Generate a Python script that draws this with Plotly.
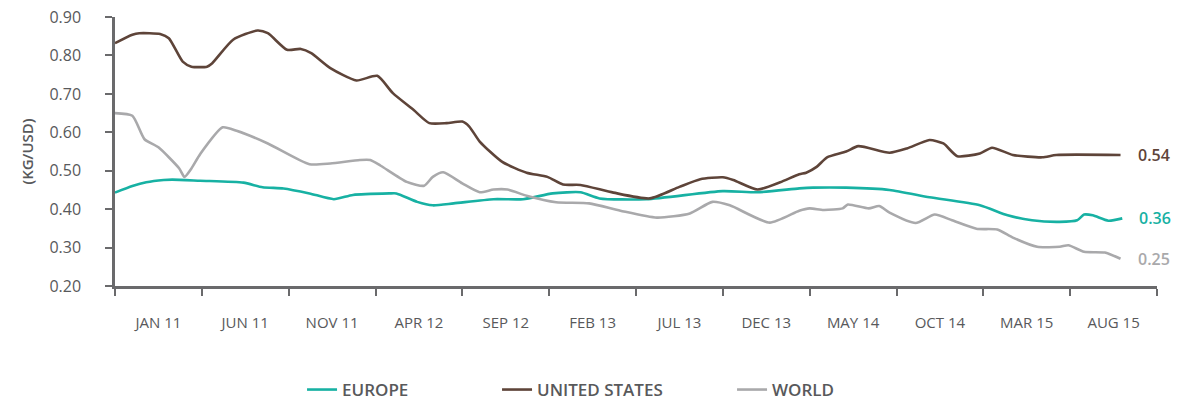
import plotly.graph_objects as go

# month index (0 = first month on the axis, 5 months between ticks)
us_month = [0, 1.0, 1.4, 2.6, 3.1, 3.9, 4.4, 5.3, 5.6, 6.8, 8.2, 8.8, 9.9, 10.7, 11.3, 12.4, 13.9,
            15.1, 16.0, 17.2, 18.1, 19.1, 20.0, 20.4, 21.0, 22.3, 23.7, 24.9, 25.8, 26.8, 28.7,
            30.8, 32.5, 33.7, 35.0, 35.6, 37.0, 38.3, 39.4, 39.8, 40.4, 41.0, 42.1, 42.8, 44.6,
            45.6, 46.9, 47.7, 48.5, 49.8, 50.5, 51.7, 53.4, 54.2, 57.9]
us_vals = [0.832, 0.854, 0.858, 0.856, 0.845, 0.784, 0.771, 0.771, 0.780, 0.841, 0.865, 0.858,
           0.815, 0.817, 0.806, 0.767, 0.735, 0.747, 0.702, 0.658, 0.624, 0.624, 0.628, 0.615,
           0.576, 0.523, 0.495, 0.484, 0.464, 0.463, 0.443, 0.428, 0.458, 0.478, 0.483, 0.476,
           0.451, 0.470, 0.491, 0.495, 0.510, 0.535, 0.550, 0.564, 0.547, 0.558, 0.580, 0.571,
           0.538, 0.545, 0.560, 0.541, 0.535, 0.541, 0.541]

eu_month = [0, 1.0, 1.8, 2.8, 3.3, 4.9, 7.4, 8.5, 9.7, 11.2, 12.6, 13.7, 15.8, 16.2, 17.4, 18.3,
            19.5, 21.8, 23.5, 25.2, 26.8, 27.9, 30.6, 35.0, 37.0, 39.4, 40.2, 42.1, 44.6, 46.9,
            49.8, 51.4, 52.8, 54.4, 55.4, 55.8, 56.3, 57.2, 58.0]
eu_vals = [0.443, 0.460, 0.470, 0.476, 0.477, 0.474, 0.469, 0.457, 0.454, 0.441, 0.426, 0.437,
           0.441, 0.441, 0.419, 0.410, 0.415, 0.426, 0.426, 0.441, 0.444, 0.428, 0.426, 0.447,
           0.444, 0.454, 0.456, 0.456, 0.450, 0.431, 0.410, 0.384, 0.371, 0.367, 0.371, 0.386,
           0.384, 0.370, 0.376]

wo_month = [0, 1.0, 1.7, 2.5, 3.7, 4.0, 4.4, 4.9, 6.2, 7.0, 8.8, 11.2, 12.4, 14.1, 14.7, 15.3,
            16.8, 17.8, 18.3, 18.9, 20.0, 21.0, 21.8, 22.6, 23.7, 25.4, 27.3, 29.1, 31.2, 33.1,
            34.4, 35.4, 37.7, 39.4, 40.0, 40.8, 41.9, 42.2, 43.4, 44.0, 44.6, 46.1, 47.2, 48.2,
            49.6, 50.8, 51.7, 53.1, 54.4, 54.9, 55.8, 57.0, 57.9]
wo_vals = [0.650, 0.643, 0.582, 0.561, 0.506, 0.484, 0.506, 0.543, 0.613, 0.604, 0.571, 0.517,
           0.519, 0.528, 0.528, 0.513, 0.471, 0.461, 0.484, 0.496, 0.467, 0.444, 0.451, 0.451,
           0.435, 0.418, 0.415, 0.396, 0.378, 0.389, 0.419, 0.410, 0.365, 0.396, 0.402, 0.398,
           0.402, 0.412, 0.402, 0.408, 0.391, 0.364, 0.386, 0.371, 0.349, 0.347, 0.326, 0.302,
           0.302, 0.306, 0.289, 0.287, 0.271]

tick_labels = ["JAN 11", "JUN 11", "NOV 11", "APR 12", "SEP 12", "FEB 13", "JUL 13",
               "DEC 13", "MAY 14", "OCT 14", "MAR 15", "AUG 15"]
label_pos = [2.5 + 5 * i for i in range(len(tick_labels))]
tick_bounds = [5 * i for i in range(len(tick_labels) + 1)]
y_ticks = [0.2, 0.3, 0.4, 0.5, 0.6, 0.7, 0.8, 0.9]
end_labels = ["0.36", "0.54", "0.25"]

TEAL = "#17b1a3"
BROWN = "#5e4439"
GREY = "#a9a9ab"
AXIS = "#6a6a6c"
TEXT = "#58595b"
FONT = "Open Sans"

fig = go.Figure()
series = [("EUROPE", eu_month, eu_vals, TEAL, 150),
          ("UNITED STATES", us_month, us_vals, BROWN, 190),
          ("WORLD", wo_month, wo_vals, GREY, 80)]
for name, xs, ys, col, lw in series:
    fig.add_trace(go.Scatter(x=xs, y=ys, name=name, mode="lines", legendwidth=lw,
                             line=dict(color=col, width=2.6, shape="spline", smoothing=0.6)))

for (name, xs, ys, col, _), lab in zip(series, end_labels):
    fig.add_annotation(x=xs[-1], y=ys[-1], text=lab, showarrow=False, xanchor="left",
                       yanchor="middle", xshift=15,
                       font=dict(family=FONT, size=16, color=col, weight=600))

fig.update_layout(
    width=1198, height=402,
    margin=dict(l=115, r=41, t=17, b=116, autoexpand=False),
    paper_bgcolor="white", plot_bgcolor="white",
    font=dict(family=FONT, color=TEXT),
    showlegend=True,
    legend=dict(orientation="h", x=0.1795, xanchor="left", y=-0.3866, yanchor="middle",
                font=dict(family=FONT, size=17, color=TEXT, weight=600),
                entrywidthmode="pixels", traceorder="normal",
                bgcolor="rgba(0,0,0,0)"),
    xaxis=dict(range=[0, 60], tickmode="array", tickvals=label_pos, ticktext=tick_labels,
               ticks="", showgrid=False, zeroline=False, showline=True, linecolor=AXIS,
               linewidth=2.5, tickfont=dict(family=FONT, size=15, color=TEXT),
               ticklabelstandoff=21, automargin=False,
               minor=dict(tickmode="array", tickvals=tick_bounds, ticks="outside",
                          ticklen=7, tickwidth=2, tickcolor=AXIS, showgrid=False)),
    yaxis=dict(range=[0.2, 0.9002], tickmode="array",
               tickvals=y_ticks, tickformat=".2f",
               ticks="outside", ticklen=7, tickwidth=2, tickcolor=AXIS,
               showgrid=False, zeroline=False, showline=True, linecolor=AXIS, linewidth=2.5,
               tickfont=dict(family=FONT, size=16, color=TEXT), ticklabelstandoff=21,
               ticklabeloverflow="allow", automargin=False,
               title=dict(text="(KG/USD)", standoff=13,
                          font=dict(family=FONT, size=15, color=TEXT, weight=600))),
)

# remove the page's default body margin so the figure fills the window exactly
fig.write_html("out.html", config={"displayModeBar": False},
               post_script="document.body.style.margin='0';")
